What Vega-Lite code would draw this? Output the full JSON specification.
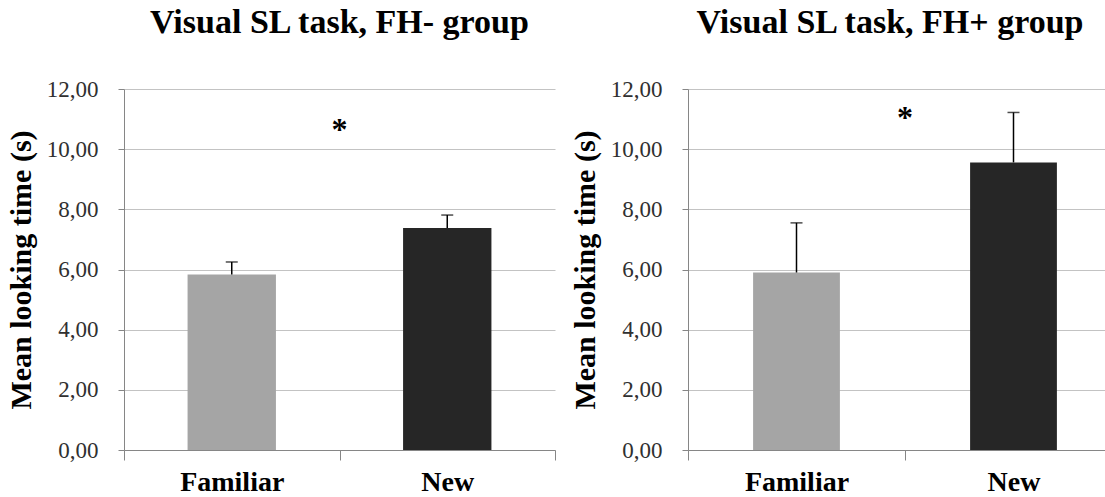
{
  "$schema": "https://vega.github.io/schema/vega-lite/v6.json",
  "background": "white",
  "autosize": {"type": "pad"},
  "padding": {"left": 6, "top": 6, "right": 0, "bottom": 0},
  "spacing": 14,
  "config": {
    "font": "Liberation Serif",
    "view": {"stroke": null},
    "title": {"font": "Liberation Serif", "fontSize": 34, "fontWeight": "bold", "color": "black", "anchor": "middle", "offset": 38},
    "axisX": {
      "title": null, "labelAngle": 0, "tickBand": "extent", "grid": false,
      "domainColor": "#868686", "tickColor": "#868686", "tickSize": 10,
      "labelFont": "Liberation Serif", "labelFontSize": 28, "labelFontWeight": "bold", "labelColor": "black", "labelPadding": 8
    },
    "axisY": {
      "grid": true, "gridColor": "#c3c3c3",
      "domainColor": "#868686", "tickColor": "#868686", "tickSize": 6,
      "labelFont": "Liberation Serif", "labelFontSize": 23, "labelColor": "#303030", "labelPadding": 20,
      "titleFont": "Liberation Serif", "titleFontSize": 30, "titleFontWeight": "bold", "titleColor": "black", "titlePadding": 10
    }
  },
  "datasets": {
    "means": [
      {"panel": "FH-", "condition": "Familiar", "mean": 5.83, "upper": 6.25},
      {"panel": "FH-", "condition": "New", "mean": 7.38, "upper": 7.81},
      {"panel": "FH+", "condition": "Familiar", "mean": 5.9, "upper": 7.55},
      {"panel": "FH+", "condition": "New", "mean": 9.56, "upper": 11.22}
    ],
    "stars": [
      {"panel": "FH-", "condition": "New", "y": 10.63, "label": "*"},
      {"panel": "FH+", "condition": "New", "y": 11.02, "label": "*"}
    ]
  },
  "hconcat": [
    {
      "width": 431, "height": 361,
      "title": "Visual SL task, FH- group",
      "layer": [
        {
          "data": {"name": "means"},
          "transform": [{"filter": "datum.panel === 'FH-'"}],
          "mark": {"type": "bar", "width": {"band": 0.41}},
          "encoding": {
            "x": {"field": "condition", "type": "nominal", "sort": ["Familiar", "New"], "scale": {"paddingInner": 0, "paddingOuter": 0}},
            "y": {"field": "mean", "type": "quantitative", "scale": {"domain": [0, 12], "nice": false}, "title": "Mean looking time (s)",
                  "axis": {"values": [0, 2, 4, 6, 8, 10, 12], "labelExpr": "replace(format(datum.value, '.2f'), '.', ',')"}},
            "color": {"field": "condition", "type": "nominal", "scale": {"domain": ["Familiar", "New"], "range": ["#a5a5a5", "#262626"]}, "legend": null}
          }
        },
        {
          "data": {"name": "means"},
          "transform": [{"filter": "datum.panel === 'FH-'"}],
          "mark": {"type": "rule", "color": "black", "strokeWidth": 1.5},
          "encoding": {
            "x": {"field": "condition", "type": "nominal", "sort": ["Familiar", "New"]},
            "y": {"field": "mean", "type": "quantitative"},
            "y2": {"field": "upper"}
          }
        },
        {
          "data": {"name": "means"},
          "transform": [{"filter": "datum.panel === 'FH-'"}],
          "mark": {"type": "tick", "color": "black", "size": 12, "thickness": 1.5, "orient": "horizontal"},
          "encoding": {
            "x": {"field": "condition", "type": "nominal", "sort": ["Familiar", "New"]},
            "y": {"field": "upper", "type": "quantitative"}
          }
        },
        {
          "data": {"name": "stars"},
          "transform": [{"filter": "datum.panel === 'FH-'"}],
          "mark": {"type": "text", "font": "Liberation Serif", "fontSize": 32, "fontWeight": "bold", "color": "black", "baseline": "middle"},
          "encoding": {
            "x": {"field": "condition", "type": "nominal", "sort": ["Familiar", "New"], "bandPosition": 0},
            "y": {"field": "y", "type": "quantitative"},
            "text": {"field": "label"}
          }
        }
      ]
    },
    {
      "width": 434, "height": 361,
      "title": {"text": "Visual SL task, FH+ group", "dx": -15},
      "layer": [
        {
          "data": {"name": "means"},
          "transform": [{"filter": "datum.panel === 'FH+'"}],
          "mark": {"type": "bar", "width": {"band": 0.4}},
          "encoding": {
            "x": {"field": "condition", "type": "nominal", "sort": ["Familiar", "New"], "scale": {"paddingInner": 0, "paddingOuter": 0}},
            "y": {"field": "mean", "type": "quantitative", "scale": {"domain": [0, 12], "nice": false}, "title": "Mean looking time (s)",
                  "axis": {"values": [0, 2, 4, 6, 8, 10, 12], "labelExpr": "replace(format(datum.value, '.2f'), '.', ',')"}},
            "color": {"field": "condition", "type": "nominal", "scale": {"domain": ["Familiar", "New"], "range": ["#a5a5a5", "#262626"]}, "legend": null}
          }
        },
        {
          "data": {"name": "means"},
          "transform": [{"filter": "datum.panel === 'FH+'"}],
          "mark": {"type": "rule", "color": "black", "strokeWidth": 1.5},
          "encoding": {
            "x": {"field": "condition", "type": "nominal", "sort": ["Familiar", "New"]},
            "y": {"field": "mean", "type": "quantitative"},
            "y2": {"field": "upper"}
          }
        },
        {
          "data": {"name": "means"},
          "transform": [{"filter": "datum.panel === 'FH+'"}],
          "mark": {"type": "tick", "color": "black", "size": 12, "thickness": 1.5, "orient": "horizontal"},
          "encoding": {
            "x": {"field": "condition", "type": "nominal", "sort": ["Familiar", "New"]},
            "y": {"field": "upper", "type": "quantitative"}
          }
        },
        {
          "data": {"name": "stars"},
          "transform": [{"filter": "datum.panel === 'FH+'"}],
          "mark": {"type": "text", "font": "Liberation Serif", "fontSize": 32, "fontWeight": "bold", "color": "black", "baseline": "middle"},
          "encoding": {
            "x": {"field": "condition", "type": "nominal", "sort": ["Familiar", "New"], "bandPosition": 0},
            "y": {"field": "y", "type": "quantitative"},
            "text": {"field": "label"}
          }
        }
      ]
    }
  ]
}
